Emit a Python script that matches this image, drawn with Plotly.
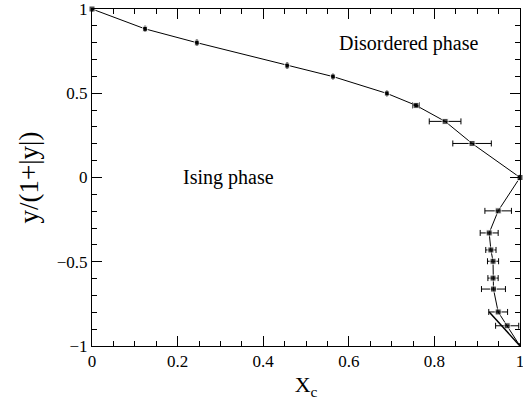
import plotly.graph_objects as go

# data
xc = [0.0, 0.124, 0.245, 0.456, 0.563, 0.689, 0.757, 0.825, 0.888, 1.0,
      0.949, 0.928, 0.932, 0.937, 0.937, 0.938, 0.949, 0.970, 1.0]
yv = [1.0, 0.882, 0.800, 0.664, 0.599, 0.499, 0.428, 0.333, 0.202, 0.0,
      -0.198, -0.329, -0.430, -0.497, -0.597, -0.662, -0.798, -0.880, -1.0]
xerr = [0, 0, 0, 0, 0, 0, 0.008, 0.037, 0.045, 0,
        0.031, 0.021, 0.012, 0.013, 0.012, 0.028, 0.022, 0.027, 0]
yerr = [0, 0.018, 0.018, 0.018, 0.015, 0.015, 0.010, 0, 0, 0,
        0, 0, 0, 0, 0, 0, 0, 0, 0]
msize = [6, 5, 5, 5, 5, 5, 6, 6, 6, 6, 6, 6, 6, 6, 6, 6, 6, 6, 0]

extra_x = [0.928, 1.0]
extra_y = [-0.798, -1.0]

labels = [("Disordered phase", 0.741, 0.793), ("Ising phase", 0.320, 0.0)]

FONT = "Liberation Serif, serif"

fig = go.Figure()
fig.add_trace(go.Scatter(
    x=xc, y=yv, mode="lines+markers",
    line=dict(color="black", width=1),
    marker=dict(symbol="square", size=msize, color="black"),
    error_x=dict(type="data", array=xerr, color="black", thickness=1, width=3, visible=True),
    error_y=dict(type="data", array=yerr, color="black", thickness=2.5, width=0, visible=True),
    showlegend=False, cliponaxis=False,
))
fig.add_trace(go.Scatter(
    x=extra_x, y=extra_y, mode="lines",
    line=dict(color="black", width=1.5), showlegend=False,
))

for t, x, y in labels:
    fig.add_annotation(x=x, y=y, text=t, showarrow=False,
                       font=dict(family=FONT, size=20, color="black"))

axis_common = dict(
    showgrid=False, zeroline=False, showline=True, linecolor="black", linewidth=1,
    mirror="ticks", ticks="inside", ticklen=10, tickwidth=1, tickcolor="black",
    tickfont=dict(family=FONT, size=17, color="black"),
    ticklabeloverflow="allow", automargin=False,
)

fig.update_xaxes(range=[0, 1], tickvals=[0, 0.2, 0.4, 0.6, 0.8, 1],
                 ticktext=["0", "0.2", "0.4", "0.6", "0.8", "1"],
                 minor=dict(dtick=0.05, ticks="inside", ticklen=5, tickcolor="black"),
                 title=dict(text="X<sub>c</sub>", font=dict(family=FONT, size=22, color="black"), standoff=6),
                 **axis_common)
fig.update_yaxes(range=[-1, 1], tickvals=[-1, -0.5, 0, 0.5, 1],
                 ticktext=["\u22121", "\u22120.5", "0", "0.5", "1"],
                 minor=dict(dtick=0.1, ticks="inside", ticklen=5, tickcolor="black"),
                 title=dict(text="y/(1+|y|)", font=dict(family=FONT, size=27, color="black"), standoff=10),
                 **axis_common)

fig.update_layout(
    width=523, height=408,
    margin=dict(l=92, r=3, t=9, b=62),
    paper_bgcolor="white", plot_bgcolor="white",
)

fig.write_html("out.html")
